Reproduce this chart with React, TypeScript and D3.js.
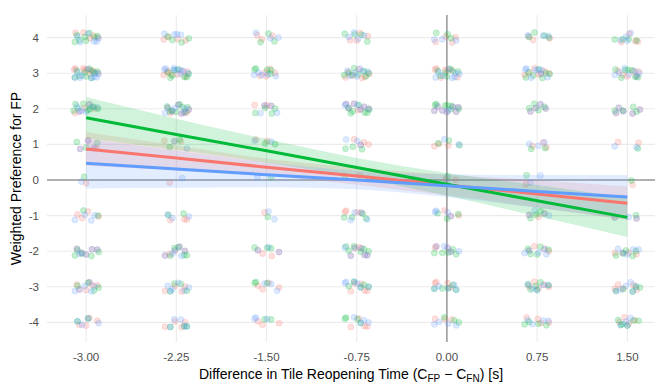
import * as d3 from "d3";
import React from "react";

// x levels (difference in reopening time) and y levels (weighted preference)
const xLevels = [-3, -2.25, -1.5, -0.75, 0, 0.75, 1.5];
const yLevels = [4, 3, 2, 1, 0, -1, -2, -3, -4];
const xTicks = ["-3.00", "-2.25", "-1.50", "-0.75", "0.00", "0.75", "1.50"];

// counts of responses per cell: rows follow yLevels, columns follow xLevels
const redCounts = [
  [5, 4, 3, 4, 4, 3, 4],
  [9, 8, 5, 7, 7, 7, 6],
  [5, 8, 4, 7, 7, 4, 5],
  [4, 3, 2, 4, 3, 3, 2],
  [1, 1, 0, 1, 2, 1, 1],
  [4, 3, 1, 4, 3, 3, 2],
  [5, 5, 4, 6, 4, 4, 4],
  [6, 4, 4, 5, 4, 5, 5],
  [4, 4, 3, 4, 3, 4, 4],
];
const greenCounts = [
  [8, 4, 3, 4, 3, 4, 4],
  [10, 8, 5, 8, 7, 7, 7],
  [8, 8, 4, 7, 7, 4, 4],
  [3, 2, 2, 3, 3, 2, 1],
  [1, 0, 1, 1, 1, 1, 1],
  [2, 2, 1, 4, 3, 3, 1],
  [5, 5, 3, 6, 5, 5, 5],
  [4, 4, 3, 5, 5, 6, 5],
  [2, 3, 2, 4, 3, 4, 6],
];
const blueCounts = [
  [6, 4, 3, 4, 3, 3, 4],
  [10, 9, 5, 7, 8, 8, 7],
  [7, 9, 4, 8, 8, 4, 5],
  [3, 2, 2, 3, 2, 3, 2],
  [1, 1, 1, 1, 1, 2, 0],
  [4, 3, 2, 4, 4, 4, 3],
  [6, 6, 3, 6, 5, 5, 5],
  [6, 6, 3, 6, 5, 5, 6],
  [4, 5, 3, 4, 4, 4, 4],
];

// fitted line and band (lower, upper) read at each x level
const redFit = [0.87, 0.62, 0.36, 0.11, -0.14, -0.39, -0.65];
const redLo = [0.4, 0.27, 0.12, -0.13, -0.43, -0.77, -1.12];
const redHi = [1.34, 0.97, 0.6, 0.35, 0.15, -0.01, -0.18];
const greenFit = [1.75, 1.28, 0.82, 0.35, -0.12, -0.58, -1.05];
const greenLo = [1.17, 0.84, 0.49, 0.08, -0.44, -1.02, -1.6];
const greenHi = [2.33, 1.72, 1.15, 0.62, 0.2, -0.14, -0.5];
const blueFit = [0.47, 0.31, 0.15, 0.0, -0.16, -0.32, -0.48];
const blueLo = [-0.24, -0.22, -0.2, -0.26, -0.48, -0.78, -1.1];
const blueHi = [1.16, 0.83, 0.5, 0.26, 0.16, 0.14, 0.14];

// hand-picked jitter offsets (fraction of jitter width)
const jitterX = [-0.8, 0.3, 0.9, -0.2, 0.55, -0.6, 0.1, -0.95, 0.7, -0.35, 0.45, -0.7, 0.85, 0.0, -0.5, 0.25, -0.1, 0.65, -0.85, 0.4, -0.3, 0.95, -0.65, 0.15, 0.6, -0.45, 0.8, -0.15, 0.35, -0.9, 0.05];
const jitterY = [0.4, -0.6, 0.2, 0.9, -0.3, -0.8, 0.6, 0.1, -0.5, 0.75, -0.1, 0.35, -0.9, 0.55, -0.25, 0.85, -0.7, 0.0, 0.45, -0.45, 0.7, -0.35, 0.15, -0.85, 0.95, 0.3, -0.15, 0.65, -0.55, 0.05, -0.75];

const groups = [
  { name: "red", color: "#F8766D", counts: redCounts, fit: redFit, lo: redLo, hi: redHi, shift: 0 },
  { name: "green", color: "#00BA38", counts: greenCounts, fit: greenFit, lo: greenLo, hi: greenHi, shift: 11 },
  { name: "blue", color: "#619CFF", counts: blueCounts, fit: blueFit, lo: blueLo, hi: blueHi, shift: 21 },
];

const W = 660;
const H = 386;
const panel = { left: 47, right: 655, top: 15, bottom: 342 };

export default function App() {
  const x = d3.scaleLinear().domain([-3.325, 1.73]).range([panel.left, panel.right]);
  const y = d3.scaleLinear().domain([-4.55, 4.635]).range([panel.bottom, panel.top]);

  const points: { cx: number; cy: number; color: string; key: string }[] = [];
  groups.forEach((g) => {
    let k = g.shift;
    g.counts.forEach((row, ri) => {
      row.forEach((n, ci) => {
        for (let i = 0; i < n; i++) {
          const jx = jitterX[k % jitterX.length] * 0.11;
          const jy = jitterY[(k * 7 + 3) % jitterY.length] * 0.15;
          k++;
          points.push({
            cx: x(xLevels[ci] + jx),
            cy: y(yLevels[ri] + jy),
            color: g.color,
            key: `${g.name}-${ri}-${ci}-${i}`,
          });
        }
      });
    });
  });

  const area = d3
    .area<number>()
    .x((d, i) => x(xLevels[i]))
    .curve(d3.curveMonotoneX);
  const line = d3
    .line<number>()
    .x((d, i) => x(xLevels[i]))
    .y((d) => y(d));

  const font = "Liberation Sans, Arial, sans-serif";
  const cx = (panel.left + panel.right) / 2;

  return (
    <svg width={W} height={H} style={{ position: "absolute", left: 0, top: 0, background: "#fff" }} fontFamily={font}>
      {/* grid */}
      {yLevels.map((v) => (
        <line key={"gy" + v} x1={panel.left} x2={panel.right} y1={y(v)} y2={y(v)} stroke="#EBEBEB" strokeWidth={1.1} />
      ))}
      {xLevels.map((v) => (
        <line key={"gx" + v} y1={panel.top} y2={panel.bottom} x1={x(v)} x2={x(v)} stroke="#EBEBEB" strokeWidth={1.1} />
      ))}
      {/* reference lines */}
      <line x1={panel.left} x2={panel.right} y1={y(0)} y2={y(0)} stroke="#6b6b6b" strokeWidth={1} />
      <line y1={panel.top} y2={panel.bottom} x1={x(0)} x2={x(0)} stroke="#6b6b6b" strokeWidth={1} />
      {/* jittered responses */}
      {points.map((p) => (
        <circle key={p.key} cx={p.cx} cy={p.cy} r={3} fill={p.color} fillOpacity={0.22} stroke={p.color} strokeOpacity={0.3} strokeWidth={0.6} />
      ))}
      {/* confidence bands */}
      {groups.map((g) => (
        <path
          key={"band-" + g.name}
          d={area.y0((d, i) => y(g.lo[i])).y1((d, i) => y(g.hi[i]))(g.fit) || ""}
          fill={g.color}
          fillOpacity={0.18}
        />
      ))}
      {/* fitted lines */}
      {groups.map((g) => (
        <path key={"line-" + g.name} d={line(g.fit) || ""} fill="none" stroke={g.color} strokeWidth={3} />
      ))}
      {/* axes labels */}
      {yLevels.map((v) => (
        <text key={"ty" + v} x={39} y={y(v)} dy="0.35em" textAnchor="end" fontSize={11.5} fill="#4D4D4D">
          {v}
        </text>
      ))}
      {xLevels.map((v, i) => (
        <text key={"tx" + v} x={x(v)} y={361} textAnchor="middle" fontSize={11.5} fill="#4D4D4D">
          {xTicks[i]}
        </text>
      ))}
      <text x={cx} y={379} textAnchor="middle" fontSize={14} fill="#000">
        Difference in Tile Reopening Time (C
        <tspan fontSize={10} dy={3}>FP</tspan>
        <tspan dy={-3}> − C</tspan>
        <tspan fontSize={10} dy={3}>FN</tspan>
        <tspan dy={-3}>) [s]</tspan>
      </text>
      <text transform={`translate(21,${(panel.top + panel.bottom) / 2}) rotate(-90)`} textAnchor="middle" fontSize={14} fill="#000">
        Weighted Preference for FP
      </text>
    </svg>
  );
}
